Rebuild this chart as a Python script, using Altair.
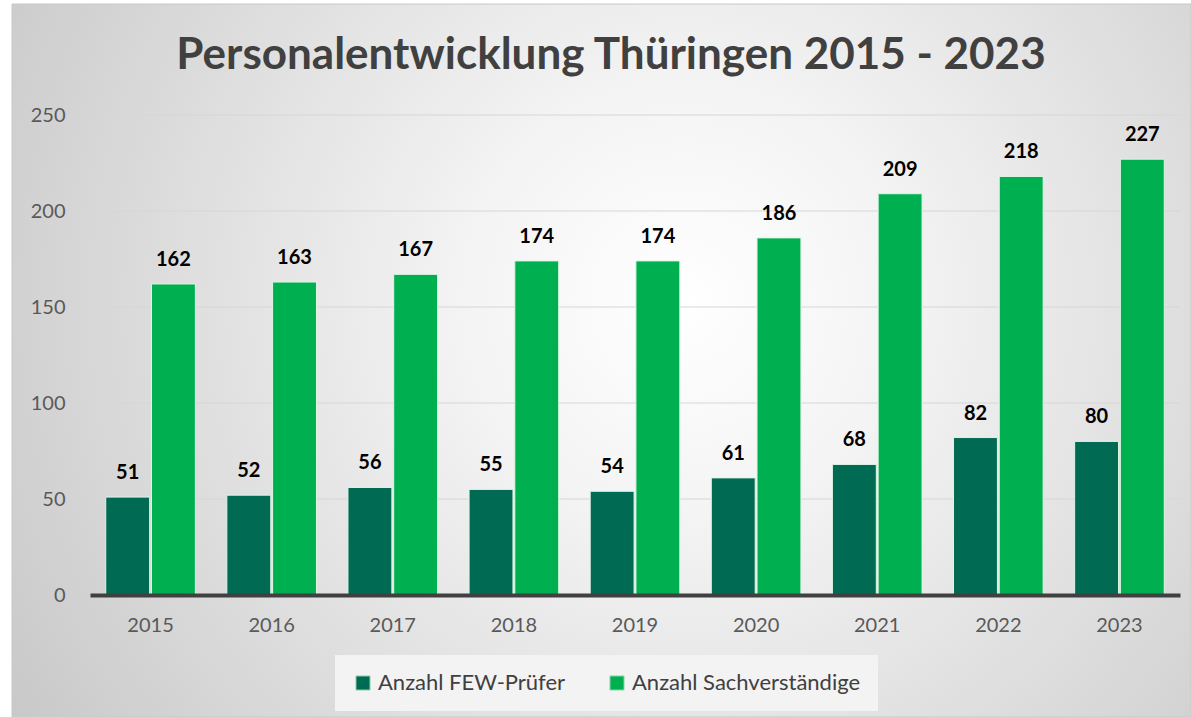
import altair as alt
import pandas as pd

years = ["2015", "2016", "2017", "2018", "2019", "2020", "2021", "2022", "2023"]
few_pruefer = [51, 52, 56, 55, 54, 61, 68, 82, 80]
sachverstaendige = [162, 163, 167, 174, 174, 186, 209, 218, 227]
series_names = ["Anzahl FEW-Prüfer", "Anzahl Sachverständige"]
series_colors = ["#006B52", "#00B050"]
y_ticks = [0, 50, 100, 150, 200, 250]

rows = []
for y, a, b in zip(years, few_pruefer, sachverstaendige):
    rows.append({"Jahr": y, "Serie": series_names[0], "Wert": a})
    rows.append({"Jahr": y, "Serie": series_names[1], "Wert": b})
df = pd.DataFrame(rows)

FONT = "Lato"
W, H = 1090, 480
PL, PT, PR, PB = 90, 115, 11, 122
yscale = alt.Scale(domain=[0, 250], nice=False)

bg = alt.Chart(pd.DataFrame({"k": [0]})).mark_rect(
    fill=alt.RadialGradient(
        gradient="radial",
        stops=[alt.GradientStop(color="#ffffff", offset=0),
               alt.GradientStop(color="#f4f4f4", offset=0.25),
               alt.GradientStop(color="#c4c4c4", offset=1)],
        x1=0.57, y1=0.45, x2=0.57, y2=0.45, r1=0, r2=0.72),
    stroke="#c8c8c8", strokeWidth=1,
).encode(
    x=alt.value(12 - PL), x2=alt.value(1191 - PL),
    y=alt.value(4 - PT), y2=alt.value(717 - PT),
)

grid = alt.Chart(pd.DataFrame({"v": y_ticks[1:]})).mark_rule(
    color="#d6d6d6", strokeWidth=1
).encode(y=alt.Y("v:Q", scale=yscale))

x_enc = alt.X("Jahr:N", sort=years, title=None,
              scale=alt.Scale(paddingInner=0.26, paddingOuter=0.13),
              axis=alt.Axis(labelAngle=0, labelFontSize=20, labelColor="#595959",
                            labelFont=FONT, labelPadding=20, ticks=False,
                            domainColor="#404040", domainWidth=4, grid=False, zindex=2))
y_enc = alt.Y("Wert:Q", title=None, scale=yscale,
              axis=alt.Axis(values=y_ticks, labelFontSize=20,
                            labelColor="#595959", labelFont=FONT, labelPadding=25,
                            ticks=False, domain=False, grid=False, zindex=2))
xo = alt.XOffset("Serie:N", sort=series_names, scale=alt.Scale(paddingInner=0.04))

bars = alt.Chart(df).mark_bar(stroke="#dff5e6", strokeWidth=1).encode(
    x=x_enc, y=y_enc, xOffset=xo,
    color=alt.Color("Serie:N", sort=series_names,
                    scale=alt.Scale(domain=series_names, range=series_colors),
                    legend=alt.Legend(title=None, orient="none", direction="horizontal",
                                      legendX=245, legendY=540,
                                      symbolType="square", symbolSize=200,
                                      symbolStrokeWidth=1, symbolStrokeColor="#9fdcb5",
                                      labelFontSize=22, labelColor="#404040", labelFont=FONT,
                                      labelLimit=400,
                                      columnPadding=40, symbolOffset=0,
                                      fillColor="#f3f3f3", padding=17,
                                      labelOffset=4, zindex=2)),
)

labels = alt.Chart(df).mark_text(
    baseline="bottom", dy=-14, fontSize=20, fontWeight="bold", font=FONT, color="#000000"
).encode(
    x=alt.X("Jahr:N", sort=years), y=alt.Y("Wert:Q", scale=yscale), xOffset=xo,
    text="Wert:Q",
)

chart = alt.layer(bg, grid, bars, labels).properties(
    width=W, height=H,
    title=alt.TitleParams("Personalentwicklung Thüringen 2015 - 2023", fontSize=44,
                          font=FONT, fontWeight="bold", color="#404040",
                          anchor="middle", offset=-74, dx=-24, zindex=2),
    autosize=alt.AutoSizeParams(type="none"),
    padding={"left": PL, "top": PT, "right": PR, "bottom": PB},
    background="white",
).configure_view(stroke=None)

chart.save("out.html", embed_options={"renderer": "svg", "actions": False})
